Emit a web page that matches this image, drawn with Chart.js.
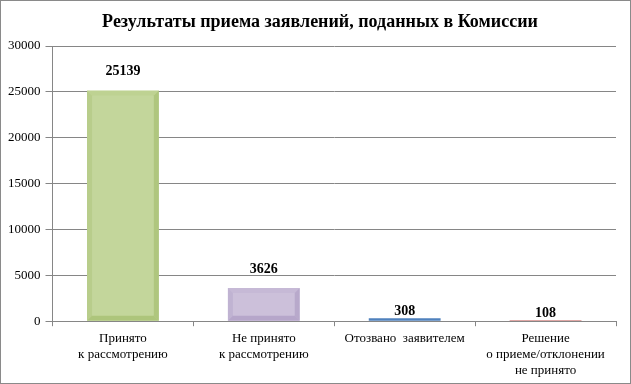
<!DOCTYPE html>
<html>
<head>
<meta charset="utf-8">
<script src="https://cdn.jsdelivr.net/npm/chart.js@4"></script>
<style>
    html, body { margin: 0; padding: 0; background: #fff; }
    #wrap { width: 631px; height: 384px; box-sizing: border-box; border: 1px solid #8a8a8a; position: relative; }
</style>
</head>
<body>
<div id="wrap"><canvas id="chart" width="629" height="382"></canvas></div>
<script>
// --- Данные ---
const titleText = 'Результаты приема заявлений, поданных в Комиссии';
const categories = [
    ['Принято', 'к рассмотрению'],
    ['Не принято', 'к рассмотрению'],
    ['Отозвано  заявителем'],
    ['Решение', 'о приеме/отклонении', 'не принято']
];
const values = [25139, 3626, 308, 108];
const barColors = ['#c3d69b', '#ccc0da', '#4f81bd', '#c0504d'];
const edgeColors = ['#9fb966', '#a795c0', '#4f81bd', '#c0504d'];
const yTicks = [0, 5000, 10000, 15000, 20000, 25000, 30000];

const serif = '"Liberation Serif", "Times New Roman", serif';

// --- Заголовок, подписи значений и "фаска" на столбцах ---
const barExtras = {
    id: 'barExtras',
    afterDatasetsDraw(chart) {
        const ctx = chart.ctx;
        ctx.save();
        ctx.fillStyle = '#000';
        ctx.font = 'bold 18px ' + serif;
        ctx.textAlign = 'center';
        ctx.textBaseline = 'middle';
        ctx.fillText(titleText, 319, 21);
        ctx.restore();

        const meta = chart.getDatasetMeta(0);
        meta.data.forEach((bar, i) => {
            const left = bar.x - bar.width / 2;
            const right = bar.x + bar.width / 2;
            const top = bar.y;
            const bottom = bar.base;
            const h = bottom - top;
            if (h > 12) {
                const b = 5;
                ctx.save();
                ctx.fillStyle = edgeColors[i];
                // левая грань светлее, правая темнее
                ctx.globalAlpha = 0.3;
                ctx.beginPath();
                ctx.moveTo(left, top); ctx.lineTo(left + b, top + b);
                ctx.lineTo(left + b, bottom - b); ctx.lineTo(left, bottom); ctx.closePath();
                ctx.fill();
                ctx.globalAlpha = 0.55;
                ctx.beginPath();
                ctx.moveTo(right, top); ctx.lineTo(right - b, top + b);
                ctx.lineTo(right - b, bottom - b); ctx.lineTo(right, bottom); ctx.closePath();
                ctx.fill();
                // верх светлый, низ темный
                ctx.globalAlpha = 0.15;
                ctx.beginPath();
                ctx.moveTo(left, top); ctx.lineTo(right, top);
                ctx.lineTo(right - b, top + b); ctx.lineTo(left + b, top + b); ctx.closePath();
                ctx.fill();
                ctx.globalAlpha = 0.6;
                ctx.beginPath();
                ctx.moveTo(left, bottom); ctx.lineTo(right, bottom);
                ctx.lineTo(right - b, bottom - b); ctx.lineTo(left + b, bottom - b); ctx.closePath();
                ctx.fill();
                ctx.restore();
            }
            ctx.save();
            ctx.fillStyle = '#000';
            ctx.font = 'bold 14px ' + serif;
            ctx.textAlign = 'center';
            ctx.textBaseline = 'middle';
            const off = h > 12 ? 19 : 7;
            ctx.fillText(String(values[i]), bar.x, top - off);
            ctx.restore();
        });
    }
};

new Chart(document.getElementById('chart'), {
    type: 'bar',
    data: {
        labels: categories,
        datasets: [{
            data: values,
            backgroundColor: barColors,
            borderWidth: 0,
            barPercentage: 0.51,
            categoryPercentage: 1
        }]
    },
    options: {
        responsive: false,
        animation: false,
        layout: { padding: { left: 2, right: 14, top: 45, bottom: 0 } },
        plugins: {
            legend: { display: false },
            tooltip: { enabled: false },
            title: { display: false }
        },
        scales: {
            x: {
                grid: { offset: true, drawOnChartArea: false, color: '#868686', tickLength: 5 },
                border: { color: '#868686' },
                ticks: { color: '#000', font: { family: serif, size: 13 }, padding: 5, maxRotation: 0 }
            },
            y: {
                min: 0,
                max: 30000,
                afterBuildTicks(axis) { axis.ticks = yTicks.map(v => ({ value: v })); },
                grid: { color: '#868686', tickLength: 7 },
                border: { color: '#868686' },
                ticks: {
                    color: '#000',
                    font: { family: serif, size: 13 },
                    padding: 5,
                    callback: v => String(v)
                }
            }
        }
    },
    plugins: [barExtras]
});
</script>
</body>
</html>
